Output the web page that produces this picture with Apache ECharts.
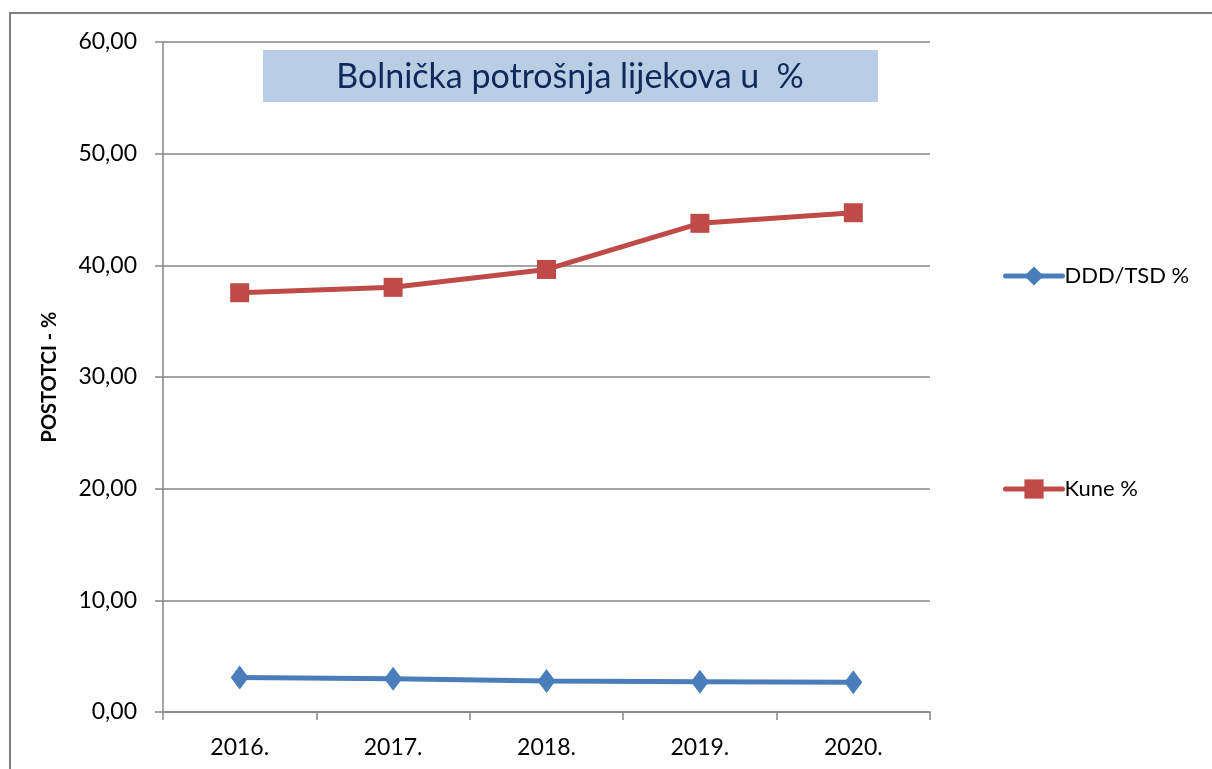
<!DOCTYPE html>
<html>
<head>
<meta charset="utf-8">
<script src="https://cdn.jsdelivr.net/npm/echarts@6/dist/echarts.min.js"></script>
<style>
html,body{margin:0;padding:0;background:#fff;}
#chart{width:1212px;height:769px;}
</style>
</head>
<body>
<div id="chart"></div>
<script>
const categories = ['2016.', '2017.', '2018.', '2019.', '2020.'];
const dddTsd = [3.10, 2.98, 2.78, 2.72, 2.66];
const kune = [37.55, 38.03, 39.63, 43.76, 44.71];
const seriesNames = ['DDD/TSD %', 'Kune %'];
const titleText = 'Bolnička potrošnja lijekova u  %';
const yAxisName = 'POSTOTCI - %';

const FONT = 'Lato, "Open Sans", sans-serif';
const chart = echarts.init(document.getElementById('chart'), null, {renderer: 'canvas'});
const legendCommon = {
  orient: 'vertical', itemWidth: 57, itemHeight: 24, itemGap: 0, padding: 0,
  textStyle: {fontFamily: FONT, fontSize: 22, color: '#000', padding: [0, 0, 0, -3]},
  lineStyle: {width: 5, cap: 'round'}
};
chart.setOption({
  backgroundColor: '#ffffff',
  animation: false,
  graphic: [
    {type: 'rect', z: 0, shape: {x: 10, y: 13, width: 1400, height: 1000},
     style: {fill: 'none', stroke: '#808080', lineWidth: 2}},
    {type: 'rect', z: 10, shape: {x: 263, y: 50, width: 615, height: 52},
     style: {fill: '#b9cde5'}},
    {type: 'text', z: 11, x: 570, y: 77,
     style: {text: titleText, fill: '#10295c', font: '34px ' + FONT,
             textAlign: 'center', textVerticalAlign: 'middle'}}
  ],
  grid: {left: 163, top: 42, right: 282, bottom: 57, containLabel: false},
  legend: [
    Object.assign({data: [seriesNames[0]], left: 1003, top: 265}, legendCommon),
    Object.assign({data: [seriesNames[1]], left: 1003, top: 478}, legendCommon)
  ],
  xAxis: {
    type: 'category', data: categories, boundaryGap: true,
    axisLine: {lineStyle: {color: '#868686', width: 1.5}},
    axisTick: {show: true, length: 8, lineStyle: {color: '#868686', width: 1.5}},
    axisLabel: {fontFamily: FONT, fontSize: 23, color: '#000', margin: 24}
  },
  yAxis: {
    type: 'value', min: 0, max: 60, interval: 10,
    name: yAxisName, nameLocation: 'middle', nameGap: 103, nameRotate: 90,
    nameTextStyle: {fontFamily: FONT, fontSize: 20, fontWeight: 'bold', color: '#000'},
    axisLine: {show: true, lineStyle: {color: '#868686', width: 1.5}},
    axisTick: {show: true, length: 8, lineStyle: {color: '#868686', width: 1.5}},
    axisLabel: {fontFamily: FONT, fontSize: 23, color: '#000', margin: 26,
                formatter: v => v.toFixed(2).replace('.', ',')},
    splitLine: {lineStyle: {color: '#868686', width: 1.5}}
  },
  series: [
    {name: seriesNames[0], type: 'line', data: dddTsd,
     symbol: 'diamond', symbolSize: [18, 24],
     lineStyle: {color: '#4a7ebb', width: 5},
     itemStyle: {color: '#4a7ebb'}},
    {name: seriesNames[1], type: 'line', data: kune,
     symbol: 'rect', symbolSize: 19,
     lineStyle: {color: '#be4b48', width: 5},
     itemStyle: {color: '#be4b48'}}
  ]
});
</script>
</body>
</html>
